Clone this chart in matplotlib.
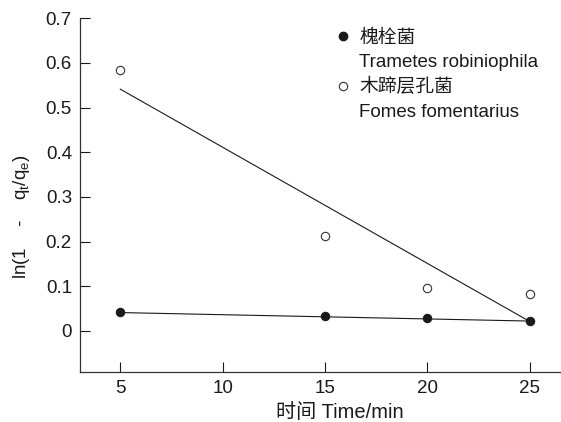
import numpy as np
import matplotlib
matplotlib.use("Agg")
import matplotlib.pyplot as plt
from matplotlib.lines import Line2D

plt.rcParams['font.family'] = ['Liberation Sans', 'Noto Sans CJK SC']
plt.rcParams['mathtext.fontset'] = 'custom'
plt.rcParams['mathtext.rm'] = 'Liberation Sans'
plt.rcParams['mathtext.it'] = 'Liberation Sans'
plt.rcParams['font.size'] = 13.5

# sampling times (min)
time_min = [5, 15, 20, 25]

# ln(1 - qt/qe) for each fungus
trametes = [0.042, 0.034, 0.028, 0.023]
fomes = [0.584, 0.212, 0.097, 0.082]

# fitted lines, values at the first and last time
fit_t = [5, 25]
trametes_fit = [0.041, 0.022]
fomes_fit = [0.541, 0.021]

ink = '#1a1a1a'

fig = plt.figure(figsize=(5.61, 4.22), dpi=100)
ax = fig.add_axes([0.1426, 0.1185, 0.855, 0.8385])

ax.plot(fit_t, fomes_fit, color=ink, lw=0.8)
ax.plot(fit_t, trametes_fit, color=ink, lw=0.8)
ax.plot(time_min, trametes, 'o', ms=6, color=ink, mfc=ink, mew=0.8)
ax.plot(time_min, fomes, 'o', ms=6, color='#333333', mfc='white', mew=0.8)

ax.set_xlim(3.03, 26.46)
ax.set_ylim(-0.092, 0.7)
ax.set_xticks([5, 10, 15, 20, 25])
ax.set_yticks([0, 0.1, 0.2, 0.3, 0.4, 0.5, 0.6, 0.7])
ax.set_yticklabels(['0', '0.1', '0.2', '0.3', '0.4', '0.5', '0.6', '0.7'])
ax.tick_params(direction='in', length=7.2, width=0.8, pad=5.8, colors=ink)

for side in ['top', 'right']:
    ax.spines[side].set_visible(False)
for side in ['left', 'bottom']:
    ax.spines[side].set_color('#333333')
    ax.spines[side].set_linewidth(0.9)

ax.set_xlabel('时间 Time/min', fontsize=14.5, color=ink)
ax.xaxis.set_label_coords(0.542, -0.087)
ax.set_ylabel('ln(1    -    q$_t$/q$_e$)', fontsize=13.5, color=ink)
ax.yaxis.set_label_coords(-0.1, 0.44)

blank = Line2D([], [], linestyle='none')
handles = [
    Line2D([], [], linestyle='none', marker='o', ms=6, color=ink, mfc=ink),
    blank,
    Line2D([], [], linestyle='none', marker='o', ms=6, color='#333333', mfc='white', mew=0.8),
    blank,
]
labels = ['槐栓菌', 'Trametes robiniophila', '木蹄层孔菌', 'Fomes fomentarius']
ax.legend(handles, labels, loc='upper left', bbox_to_anchor=(0.51, 1.005),
          frameon=False, handlelength=0.6, handletextpad=0.55,
          labelspacing=0.38, borderaxespad=0.3, labelcolor=ink)

fig.savefig('out.png', dpi=100)
